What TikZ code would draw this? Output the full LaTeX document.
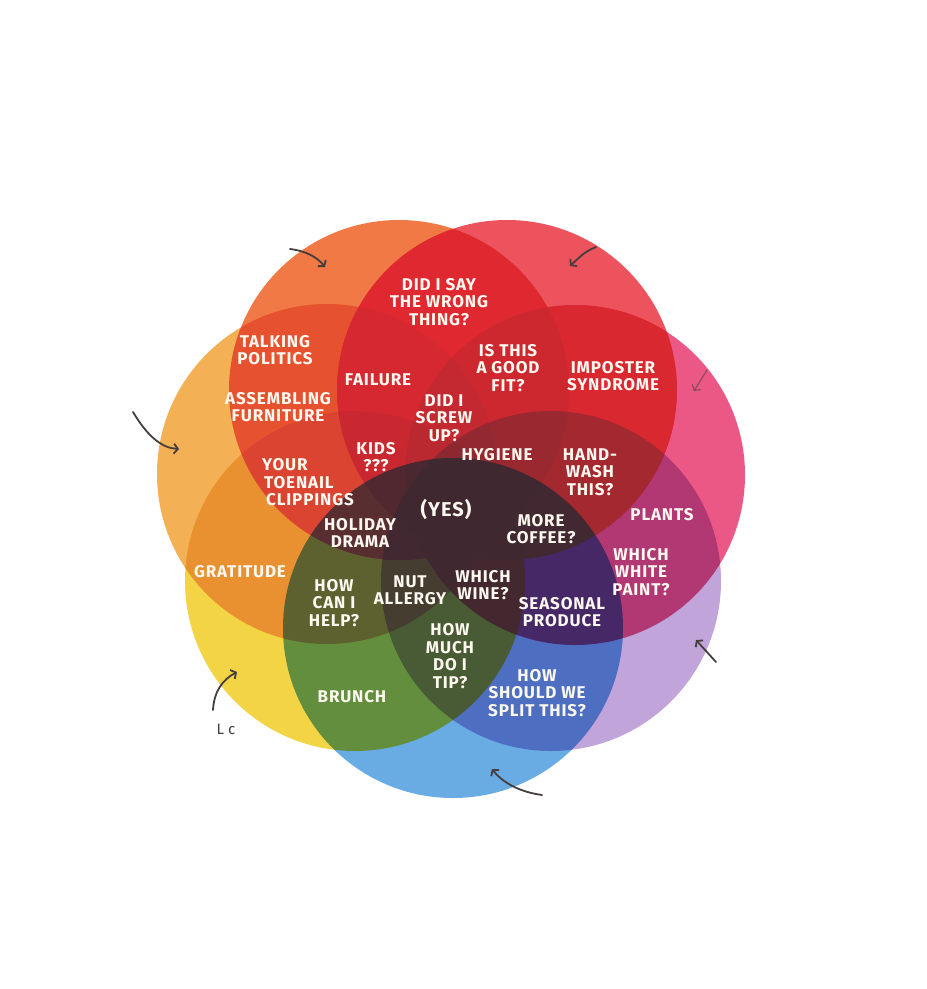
\documentclass[tikz,border=0pt]{standalone}
\usepackage{fontspec}
\setmainfont{Fira Sans}
\newfontfamily\lblfont{Fira Sans}[LetterSpace=5]
\usetikzlibrary{arrows.meta}
\definecolor{cO}{RGB}{240,114,60}
\definecolor{cR}{RGB}{236,74,84}
\definecolor{cP}{RGB}{234,80,128}
\definecolor{cV}{RGB}{190,160,216}
\definecolor{cB}{RGB}{96,168,226}
\definecolor{cY}{RGB}{243,210,60}
\definecolor{cL}{RGB}{244,172,76}
\definecolor{floorc}{RGB}{64,40,48}
\definecolor{labelwhite}{RGB}{252,248,240}
\definecolor{penc}{RGB}{70,62,62}
\begin{document}
\begin{tikzpicture}[x=1pt,y=-1pt,
  lbl/.style={text=labelwhite, font=\lblfont\bfseries\fontsize{17}{17.5}\selectfont, align=center, inner sep=0pt},
  lline/.style={lbl, anchor=west},
  hand/.style={draw=penc, line width=1.8pt, line cap=round, -{Straight Barb[length=4pt,width=10pt]}},
  petal/.style={fill opacity=0.95}]
\useasboundingbox (0,0) rectangle (927,989);
\fill[white] (0,0) rectangle (927,989);
% circle centres
\coordinate (cenO) at (399,390);
\coordinate (cenR) at (507,390);
\coordinate (cenP) at (575,475);
\coordinate (cenV) at (551,581);
\coordinate (cenB) at (453,628);
\coordinate (cenY) at (355,581);
\coordinate (cenL) at (327,474);
\begin{scope}[blend group=multiply]
\fill[cO, petal] (cenO) circle[radius=170pt];
\fill[cR, petal] (cenR) circle[radius=170pt];
\fill[cP, petal] (cenP) circle[radius=170pt];
\fill[cV, petal] (cenV) circle[radius=170pt];
\fill[cB, petal] (cenB) circle[radius=170pt];
\fill[cY, petal] (cenY) circle[radius=170pt];
\fill[cL, petal] (cenL) circle[radius=170pt];
\end{scope}
\fill[floorc, blend mode=lighten] (cenO) circle[radius=170pt] (cenR) circle[radius=170pt]
  (cenP) circle[radius=170pt] (cenV) circle[radius=170pt] (cenB) circle[radius=170pt]
  (cenY) circle[radius=170pt] (cenL) circle[radius=170pt];
% labels
\node[lbl] (wrong) at (439,302) {DID I SAY\\THE WRONG\\THING?};
\node[lbl] (politics) at (275,350) {TALKING\\POLITICS};
\node[lbl] (failure) at (378,380) {FAILURE};
\node[lbl] (goodfit) at (508,368) {IS THIS\\A GOOD\\FIT?};
\node[lbl] (imposter) at (613,376) {IMPOSTER\\SYNDROME};
\node[lbl] (furniture) at (278,407) {ASSEMBLING\\FURNITURE};
\node[lbl] (screw) at (444,418) {DID I\\SCREW\\UP?};
\node[lbl] (kids) at (376,457) {KIDS\\???};
\node[lbl] (hygiene) at (497,455) {HYGIENE};
\node[lbl] (handwash) at (590,472) {HAND-\\WASH\\THIS?};
\node[lline] (toenailA) at (262,465) {YOUR};
\node[lline] (toenailB) at (264,482.5) {TOENAIL};
\node[lline] (toenailC) at (266,500) {CLIPPINGS};
\node[lbl, font=\lblfont\bfseries\fontsize{20}{20}\selectfont] (yes) at (446,509) {(YES)};
\node[lbl] (holiday) at (360,533) {HOLIDAY\\DRAMA};
\node[lbl] (coffee) at (541,529) {MORE\\COFFEE?};
\node[lbl] (plants) at (662,515) {PLANTS};
\node[lbl] (paint) at (641,572) {WHICH\\WHITE\\PAINT?};
\node[lbl] (gratitude) at (240,572) {GRATITUDE};
\node[lbl] (help) at (334,603) {HOW\\CAN I\\HELP?};
\node[lbl] (nut) at (410,590) {NUT\\ALLERGY};
\node[lbl] (wine) at (483,585) {WHICH\\WINE?};
\node[lbl] (produce) at (562,612) {SEASONAL\\PRODUCE};
\node[lbl] (tip) at (450,656) {HOW\\MUCH\\DO I\\TIP?};
\node[lbl] (brunch) at (352,697) {BRUNCH};
\node[lbl] (split) at (537,693) {HOW\\SHOULD WE\\SPLIT THIS?};
% hand-drawn arrows
\coordinate (a1s) at (290,249); \coordinate (a1e) at (325,267);
\draw[hand] (a1s) .. controls (306,251) and (317,257) .. (a1e);
\coordinate (a2s) at (596,247); \coordinate (a2e) at (570,266);
\draw[hand] (a2s) .. controls (585,252) .. (a2e);
\coordinate (a3s) at (707,370); \coordinate (a3e) at (694,391);
\draw[hand, draw opacity=0.55, line width=1.2pt] (a3s) -- (a3e);
\coordinate (a4s) at (133,412); \coordinate (a4e) at (179,449);
\draw[hand] (a4s) .. controls (148,437) and (162,448) .. (a4e);
\coordinate (a5s) at (213,710); \coordinate (a5e) at (237,672);
\draw[hand] (a5s) .. controls (214,692) and (222,680) .. (a5e);
\coordinate (a6s) at (716,662); \coordinate (a6e) at (696,640);
\draw[hand] (a6s) -- (a6e);
\coordinate (a7s) at (542,795); \coordinate (a7e) at (492,769);
\draw[hand] (a7s) .. controls (520,792) and (503,783) .. (a7e);
\node[text=penc, font=\fontsize{15}{15}\selectfont, inner sep=0pt] (lc) at (226,729) {L c};
\end{tikzpicture}
\end{document}
